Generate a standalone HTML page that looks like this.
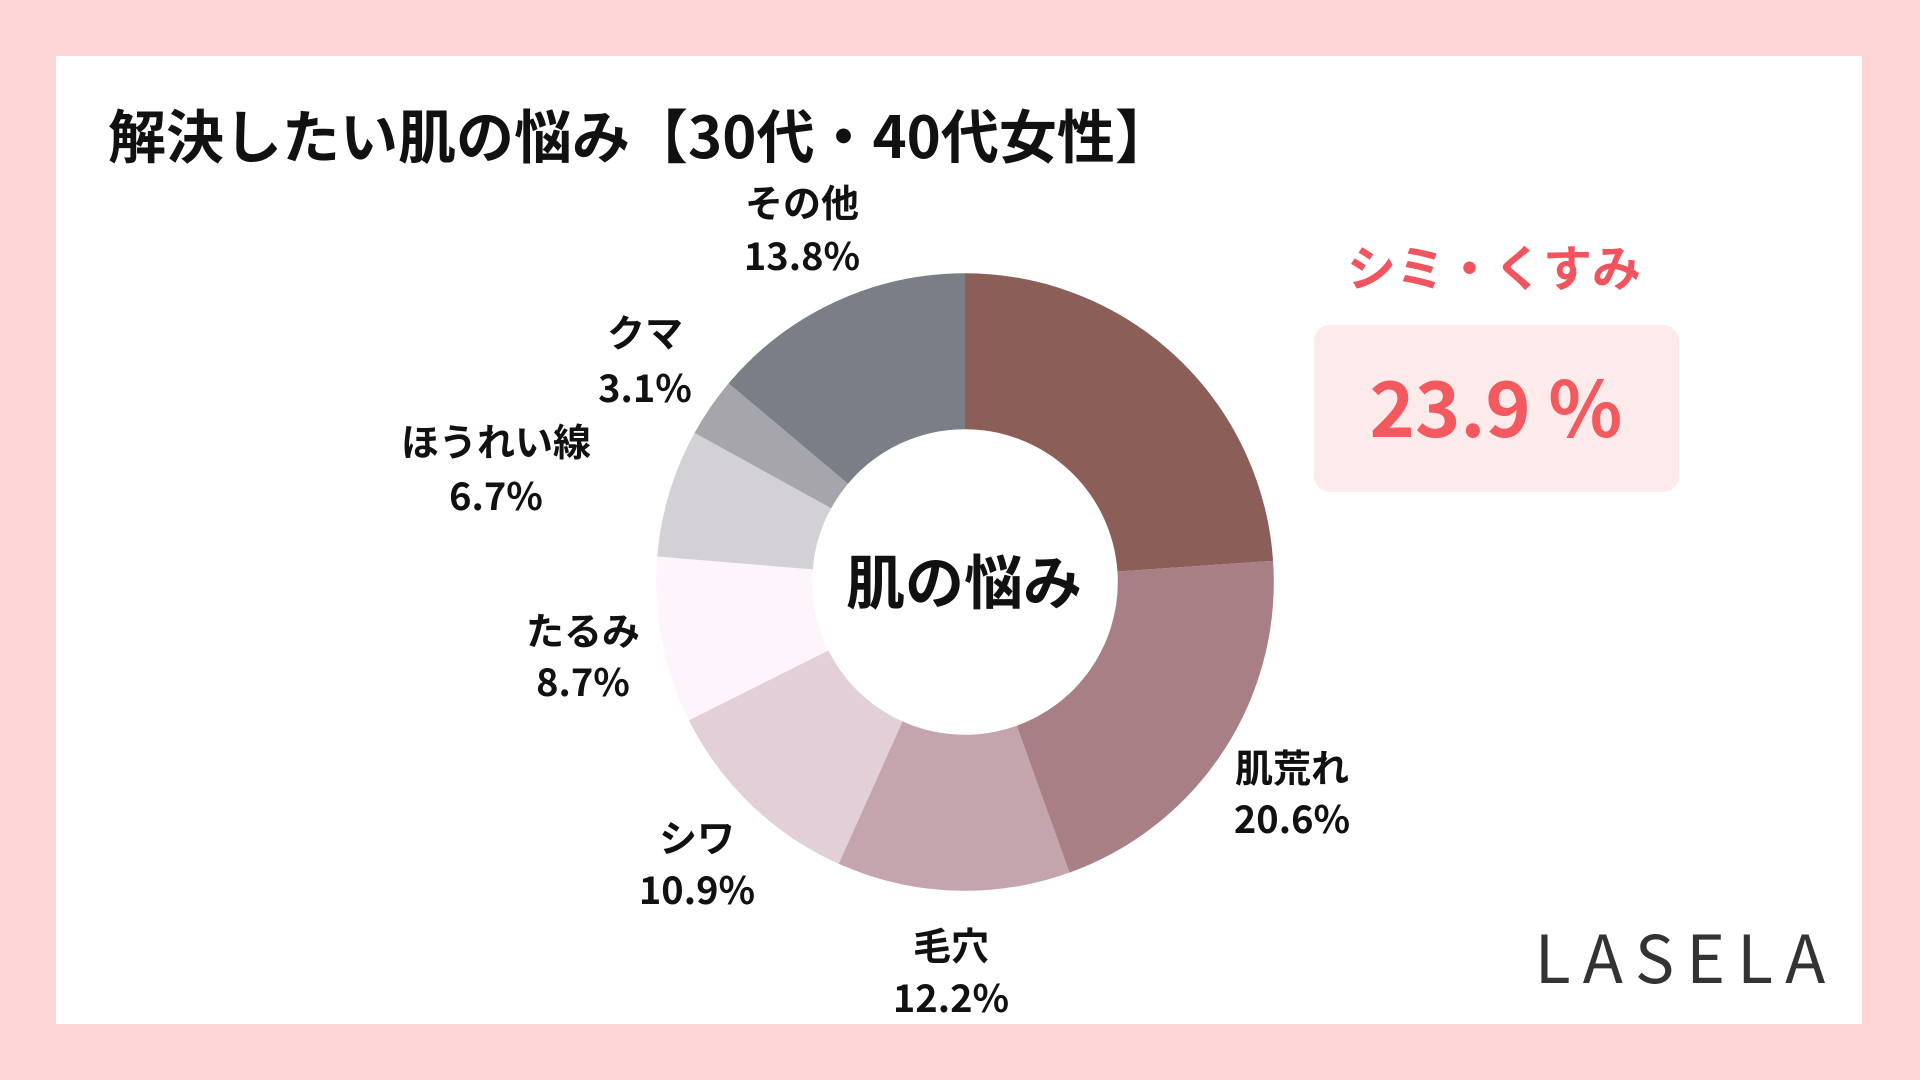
<!DOCTYPE html>
<html><head><meta charset="utf-8"><style>
html,body{margin:0;padding:0;width:1920px;height:1080px;background:#fdd5d7;overflow:hidden}
svg{display:block}
text{font-family:"Noto Sans CJK JP","Liberation Sans",sans-serif;font-weight:bold}
</style></head><body>
<svg width="1920" height="1080" viewBox="0 0 1920 1080">
<rect x="0" y="0" width="1920" height="1080" fill="#fdd5d7"/>
<rect x="56" y="56" width="1806" height="968" fill="#ffffff"/>
<text x="108" y="158" font-size="58" fill="#111">解決したい肌の悩み【30代・40代女性】</text>
<g transform="rotate(-90 965 582)" fill="none" stroke-width="156">
<circle cx="965" cy="582" r="230.8" stroke="#8b5f58" stroke-dasharray="346.6 1450.2" stroke-dashoffset="0"/>
<circle cx="965" cy="582" r="230.8" stroke="#a87f84" stroke-dasharray="298.7 1450.2" stroke-dashoffset="-346.6"/>
<circle cx="965" cy="582" r="230.8" stroke="#c5a5ad" stroke-dasharray="176.9 1450.2" stroke-dashoffset="-645.3"/>
<circle cx="965" cy="582" r="230.8" stroke="#e2cfd8" stroke-dasharray="158.1 1450.2" stroke-dashoffset="-822.2"/>
<circle cx="965" cy="582" r="230.8" stroke="#fdf5fb" stroke-dasharray="126.2 1450.2" stroke-dashoffset="-980.3"/>
<circle cx="965" cy="582" r="230.8" stroke="#d3d1d6" stroke-dasharray="97.2 1450.2" stroke-dashoffset="-1106.5"/>
<circle cx="965" cy="582" r="230.8" stroke="#a5a5ab" stroke-dasharray="45.0 1450.2" stroke-dashoffset="-1203.7"/>
<circle cx="965" cy="582" r="230.8" stroke="#7a7f87" stroke-dasharray="201.5 1450.2" stroke-dashoffset="-1248.7"/>
</g>
<text x="964" y="604" font-size="59" fill="#111" text-anchor="middle">肌の悩み</text>
<g font-size="38" fill="#111" text-anchor="middle">
<text x="802" y="217">その他</text><text x="802" y="270">13.8%</text>
<text x="645" y="347">クマ</text><text x="645" y="402">3.1%</text>
<text x="496" y="456">ほうれい線</text><text x="496" y="510">6.7%</text>
<text x="583" y="645">たるみ</text><text x="583" y="696">8.7%</text>
<text x="697" y="852">シワ</text><text x="697" y="904">10.9%</text>
<text x="951" y="960">毛穴</text><text x="951" y="1012">12.2%</text>
<text x="1292" y="782">肌荒れ</text><text x="1292" y="833">20.6%</text>
</g>
<text x="1494" y="286" font-size="49" fill="#f0545f" text-anchor="middle">シミ・くすみ</text>
<rect x="1314" y="325" width="365" height="167" rx="16" fill="#fdeaea"/>
<text x="1496" y="437" font-size="77" fill="#f25a5f" text-anchor="middle">23.9 %</text>
<text x="1686" y="983" font-size="66" fill="#333" text-anchor="middle" style="font-weight:400;letter-spacing:12px">LASELA</text>
</svg>
</body></html>
